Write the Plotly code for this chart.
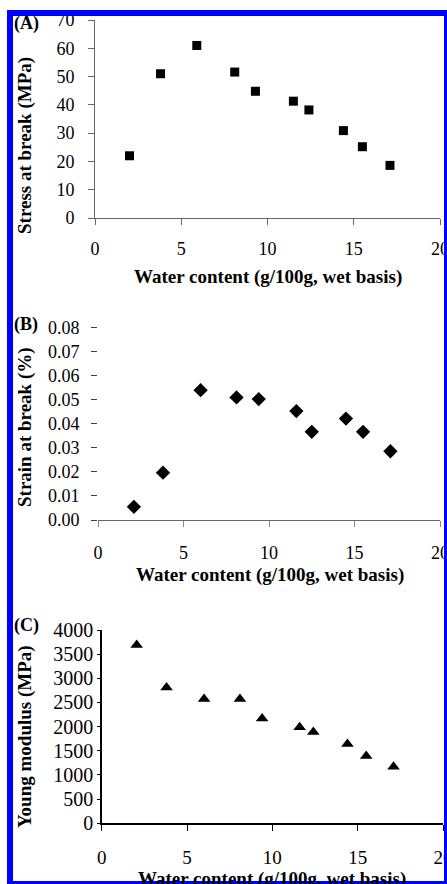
import plotly.graph_objects as go

# ---- data ----
water_a = [2.0, 3.8, 5.9, 8.1, 9.3, 11.5, 12.4, 14.4, 15.5, 17.1]
stress = [22, 51, 61, 51.6, 44.8, 41.3, 38.2, 30.9, 25.2, 18.6]

water_b = [2.1, 3.8, 6.0, 8.1, 9.4, 11.6, 12.5, 14.5, 15.5, 17.1]
strain = [0.0055, 0.0197, 0.054, 0.051, 0.0503, 0.0453, 0.0367, 0.0422, 0.0367, 0.0286]

water_c = [2.05, 3.8, 6.0, 8.1, 9.4, 11.6, 12.4, 14.4, 15.5, 17.1]
modulus = [3690, 2810, 2570, 2570, 2170, 1985, 1890, 1640, 1395, 1170]

x_ticks = [0, 5, 10, 15, 20]
x_title = "Water content (g/100g, wet basis)"
y_titles = ["Stress at break (MPa)", "Strain at break (%)", "Young modulus (MPa)"]
panel_labels = ["(A)", "(B)", "(C)"]

W, H = 447, 884
FONT = "Liberation Serif"


def fx(px):
    return px / W


def fy(py):
    return 1 - py / H


fig = go.Figure()

fig.add_trace(go.Scatter(x=water_a, y=stress, mode="markers", xaxis="x", yaxis="y",
                         marker=dict(symbol="square", size=9, color="black")))
fig.add_trace(go.Scatter(x=water_b, y=strain, mode="markers", xaxis="x2", yaxis="y2",
                         marker=dict(symbol="diamond", size=11, color="black")))
fig.add_trace(go.Scatter(x=water_c, y=modulus, mode="markers", xaxis="x3", yaxis="y3",
                         marker=dict(symbol="triangle-up", size=11, color="black")))


def tf(size):
    return dict(family=FONT, size=size, color="black")


def xax(**kw):
    d = dict(range=[0, 20], tickmode="array", tickvals=x_ticks, ticks="outside", ticklen=6,
             showgrid=False, zeroline=False, fixedrange=True, automargin=False,
             ticklabeloverflow="allow")
    d.update(kw)
    return d


def yax(**kw):
    d = dict(ticks="outside", ticklen=6, showgrid=False, zeroline=False, fixedrange=True,
             automargin=False, ticklabeloverflow="allow")
    d.update(kw)
    return d


fig.update_layout(
    template="none",
    xaxis=xax(domain=[fx(95), fx(440)], anchor="y", showline=True, linecolor="#666666",
              tickcolor="#666666", linewidth=1, ticklabelstandoff=8, tickfont=tf(18)),
    yaxis=yax(domain=[fy(218), fy(20)], anchor="x", range=[0, 70], dtick=10, showline=True,
              linecolor="#666666", tickcolor="#666666", linewidth=1, ticklabelstandoff=10,
              tickfont=tf(18)),
    xaxis2=xax(domain=[fx(98), fx(440)], anchor="y2", showline=True, linecolor="#666666",
               tickcolor="#888888", linewidth=1, ticklabelstandoff=10, tickfont=tf(18)),
    yaxis2=yax(domain=[fy(520), fy(327.7)], anchor="x2", range=[0, 0.08], dtick=0.01,
               tickformat=".2f", showline=False, tickcolor="#444444", ticklabelstandoff=8,
               tickfont=tf(18)),
    xaxis3=xax(domain=[fx(101.7), fx(443)], anchor="y3", showline=True, linecolor="black",
               tickcolor="black", linewidth=1.5, ticklabelstandoff=10, tickfont=tf(19)),
    yaxis3=yax(domain=[fy(823.3), fy(630)], anchor="x3", range=[0, 4000], dtick=500,
               showline=True, linecolor="black", tickcolor="black", linewidth=1.5,
               ticklen=3, ticklabelstandoff=0, tickfont=tf(20)),
)

annotations = []
# x titles
for xc, yc in [(268, 277), (270, 575), (272, 879)]:
    annotations.append(dict(x=fx(xc), y=fy(yc), xref="paper", yref="paper",
                            text="<b>" + x_title + "</b>",
                            showarrow=False, xanchor="center", yanchor="middle",
                            font=tf(19)))
# y titles
for t, (xc, yc) in zip(y_titles, [(25, 146), (25, 427), (25, 737)]):
    annotations.append(dict(x=fx(xc), y=fy(yc), xref="paper", yref="paper",
                            text="<b>" + t + "</b>",
                            showarrow=False, xanchor="center", yanchor="middle", textangle=-90,
                            font=tf(19)))
# panel labels
for t, yt in zip(panel_labels, [23, 324, 625]):
    annotations.append(dict(x=fx(12), y=fy(yt), xref="paper", yref="paper",
                            text="<b>" + t + "</b>",
                            showarrow=False, xanchor="left", yanchor="middle",
                            font=tf(18)))

BLUE = "#0000ff"
shapes = [
    dict(type="rect", xref="paper", yref="paper", x0=fx(7), x1=fx(13), y0=fy(884), y1=fy(10),
         fillcolor=BLUE, line=dict(width=0), layer="above"),
    dict(type="rect", xref="paper", yref="paper", x0=fx(7), x1=fx(447), y0=fy(16), y1=fy(10),
         fillcolor=BLUE, line=dict(width=0), layer="above"),
    dict(type="rect", xref="paper", yref="paper", x0=fx(444), x1=fx(447), y0=fy(884), y1=fy(10),
         fillcolor=BLUE, line=dict(width=0), layer="above"),
    dict(type="rect", xref="paper", yref="paper", x0=fx(7), x1=fx(447), y0=fy(884), y1=fy(881),
         fillcolor=BLUE, line=dict(width=0), layer="above"),
]

fig.update_layout(
    width=W, height=H, autosize=False,
    margin=dict(l=0, r=0, t=0, b=0, pad=0),
    paper_bgcolor="white", plot_bgcolor="white",
    showlegend=False,
    annotations=annotations,
    shapes=shapes,
    font=dict(family=FONT, color="black"),
)

fig.write_html("out.html", config=dict(displayModeBar=False, staticPlot=True),
               post_script="document.body.style.margin='0';document.body.style.overflow='hidden';")
